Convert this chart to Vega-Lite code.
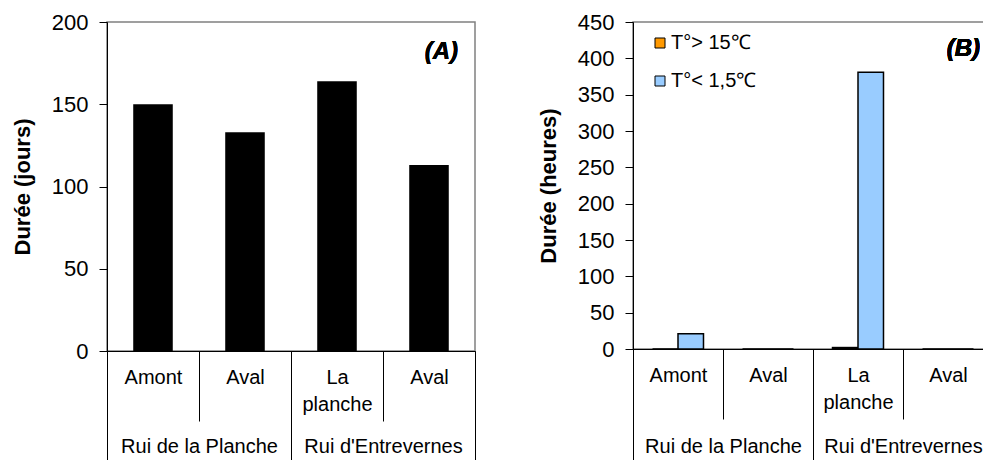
{
  "$schema": "https://vega.github.io/schema/vega-lite/v6.json",
  "padding": {"left": 10, "top": 10, "right": 0, "bottom": 0},
  "background": "white",
  "config": {
    "font": "Liberation Sans",
    "view": {"stroke": "#808080", "strokeWidth": 1.5},
    "axis": {"labelFont": "Liberation Sans", "titleFont": "Liberation Sans", "labelColor": "black", "titleColor": "black", "domainColor": "black", "tickColor": "black", "grid": false, "labelOverlap": false},
    "concat": {"spacing": 59}
  },
  "datasets": {
    "jours": [
      {"site": "RP-Amont", "riviere": "Rui de la Planche", "duree": 150},
      {"site": "RP-Aval", "riviere": "Rui de la Planche", "duree": 133},
      {"site": "RE-La planche", "riviere": "Rui d'Entrevernes", "duree": 164},
      {"site": "RE-Aval", "riviere": "Rui d'Entrevernes", "duree": 113}
    ],
    "heures": [
      {"site": "RP-Amont", "riviere": "Rui de la Planche", "serie": "T°> 15℃", "heures": 0},
      {"site": "RP-Amont", "riviere": "Rui de la Planche", "serie": "T°< 1,5℃", "heures": 21},
      {"site": "RP-Aval", "riviere": "Rui de la Planche", "serie": "T°> 15℃", "heures": 0},
      {"site": "RP-Aval", "riviere": "Rui de la Planche", "serie": "T°< 1,5℃", "heures": 0},
      {"site": "RE-La planche", "riviere": "Rui d'Entrevernes", "serie": "T°> 15℃", "heures": 2},
      {"site": "RE-La planche", "riviere": "Rui d'Entrevernes", "serie": "T°< 1,5℃", "heures": 381},
      {"site": "RE-Aval", "riviere": "Rui d'Entrevernes", "serie": "T°> 15℃", "heures": 0},
      {"site": "RE-Aval", "riviere": "Rui d'Entrevernes", "serie": "T°< 1,5℃", "heures": 0}
    ]
  },
  "hconcat": [
    {
      "width": 368,
      "height": 329,
      "data": {"name": "jours"},
      "layer": [
        {
          "mark": {"type": "bar", "color": "black", "width": {"band": 0.43}},
          "encoding": {
            "x": {"field": "site", "type": "nominal", "sort": null,
              "scale": {"domain": ["RP-Amont", "RP-Aval", "RE-La planche", "RE-Aval"], "paddingInner": 0, "paddingOuter": 0},
              "axis": {"title": null, "orient": "bottom", "tickBand": "extent", "tickSize": 70, "labelPadding": -54, "labelAngle": 0, "labelBaseline": "top", "labelFontSize": 20, "labelLineHeight": 27, "labelExpr": "isString(datum.value) ? (datum.value == 'RE-La planche' ? ['La', 'planche'] : substring(datum.value, 3)) : ''"}},
            "y": {"field": "duree", "type": "quantitative", "stack": null, "scale": {"domain": [0, 200], "nice": false},
              "axis": {"title": "Durée (jours)", "values": [0, 50, 100, 150, 200], "labelOverlap": false, "tickSize": 8, "labelPadding": 11, "labelFontSize": 22, "titleFontSize": 22, "titleFontWeight": "bold", "titlePadding": 17}}
          }
        },
        {
          "mark": {"type": "text", "text": "(A)", "align": "right", "baseline": "middle", "dx": 29, "fontSize": 24, "fontWeight": "bold", "fontStyle": "italic", "font": "Liberation Sans", "color": "black"},
          "encoding": {
            "x": {"datum": "RE-Aval", "type": "nominal",
              "scale": {"domain": ["RP-Amont", "RP-Aval", "RE-La planche", "RE-Aval"], "paddingInner": 0, "paddingOuter": 0}, "axis": null},
            "y": {"datum": 182, "type": "quantitative",
              "axis": {"title": "Durée (jours)", "values": [0, 50, 100, 150, 200], "labelOverlap": false, "tickSize": 8, "labelPadding": 11, "labelFontSize": 22, "titleFontSize": 22, "titleFontWeight": "bold", "titlePadding": 17}}
          }
        },
        {
          "mark": {"type": "bar", "opacity": 0},
          "encoding": {
            "x": {"field": "riviere", "type": "nominal", "sort": null,
              "scale": {"domain": ["Rui de la Planche", "Rui d'Entrevernes"], "paddingInner": 0, "paddingOuter": 0},
              "axis": {"title": null, "orient": "bottom", "domain": false, "tickBand": "extent", "tickSize": 110, "labelPadding": -25, "labelAngle": 0, "labelBaseline": "top", "labelFontSize": 20, "labelExpr": "isString(datum.value) ? datum.value : ''"}},
            "y": {"field": "duree", "type": "quantitative", "stack": null,
              "axis": {"title": "Durée (jours)", "values": [0, 50, 100, 150, 200], "labelOverlap": false, "tickSize": 8, "labelPadding": 11, "labelFontSize": 22, "titleFontSize": 22, "titleFontWeight": "bold", "titlePadding": 17}}
          }
        }
      ],
      "resolve": {"scale": {"x": "independent"}}
    },
    {
      "width": 360,
      "height": 327,
      "data": {"name": "heures"},
      "layer": [
        {
          "mark": {"type": "bar", "stroke": "black", "strokeWidth": 1.5},
          "encoding": {
            "x": {"field": "site", "type": "nominal", "sort": null,
              "scale": {"domain": ["RP-Amont", "RP-Aval", "RE-La planche", "RE-Aval"], "paddingInner": 0, "paddingOuter": 0},
              "axis": {"title": null, "orient": "bottom", "tickBand": "extent", "tickSize": 70, "labelPadding": -54, "labelAngle": 0, "labelBaseline": "top", "labelFontSize": 20, "labelLineHeight": 27, "labelExpr": "isString(datum.value) ? (datum.value == 'RE-La planche' ? ['La', 'planche'] : substring(datum.value, 3)) : ''"}},
            "xOffset": {"field": "serie", "type": "nominal", "sort": null,
              "scale": {"domain": ["T°> 15℃", "T°< 1,5℃"], "paddingInner": 0, "paddingOuter": 0.765}},
            "y": {"field": "heures", "type": "quantitative", "stack": null, "scale": {"domain": [0, 450], "nice": false},
              "axis": {"title": "Durée (heures)", "values": [0, 50, 100, 150, 200, 250, 300, 350, 400, 450], "labelOverlap": false, "tickSize": 8, "labelPadding": 11, "labelFontSize": 22, "titleFontSize": 22, "titleFontWeight": "bold", "titlePadding": 17}},
            "color": {"field": "serie", "type": "nominal", "sort": null,
              "scale": {"domain": ["T°> 15℃", "T°< 1,5℃"], "range": ["#FF9900", "#99CCFF"]},
              "legend": {"title": null, "orient": "none", "legendX": 17, "legendY": 11, "symbolType": "square", "symbolSize": 100, "symbolStrokeColor": "black", "symbolStrokeWidth": 1, "symbolOpacity": 1, "labelFontSize": 20, "labelFont": "Liberation Sans", "labelColor": "black", "rowPadding": 18, "labelOffset": 1, "padding": 0}}
          }
        },
        {
          "mark": {"type": "text", "text": "(B)", "align": "right", "baseline": "middle", "dx": 32, "fontSize": 24, "fontWeight": "bold", "fontStyle": "italic", "font": "Liberation Sans", "color": "black"},
          "encoding": {
            "x": {"datum": "RE-Aval", "type": "nominal",
              "scale": {"domain": ["RP-Amont", "RP-Aval", "RE-La planche", "RE-Aval"], "paddingInner": 0, "paddingOuter": 0}, "axis": null},
            "y": {"datum": 413, "type": "quantitative",
              "axis": {"title": "Durée (heures)", "values": [0, 50, 100, 150, 200, 250, 300, 350, 400, 450], "labelOverlap": false, "tickSize": 8, "labelPadding": 11, "labelFontSize": 22, "titleFontSize": 22, "titleFontWeight": "bold", "titlePadding": 17}}
          }
        },
        {
          "mark": {"type": "bar", "opacity": 0},
          "encoding": {
            "x": {"field": "riviere", "type": "nominal", "sort": null,
              "scale": {"domain": ["Rui de la Planche", "Rui d'Entrevernes"], "paddingInner": 0, "paddingOuter": 0},
              "axis": {"title": null, "orient": "bottom", "domain": false, "tickBand": "extent", "tickSize": 112, "labelPadding": -25, "labelAngle": 0, "labelBaseline": "top", "labelFontSize": 20, "labelExpr": "isString(datum.value) ? datum.value : ''"}},
            "y": {"field": "heures", "type": "quantitative", "stack": null,
              "axis": {"title": "Durée (heures)", "values": [0, 50, 100, 150, 200, 250, 300, 350, 400, 450], "labelOverlap": false, "tickSize": 8, "labelPadding": 11, "labelFontSize": 22, "titleFontSize": 22, "titleFontWeight": "bold", "titlePadding": 17}}
          }
        }
      ],
      "resolve": {"scale": {"x": "independent"}}
    }
  ],
  "resolve": {"legend": {"color": "independent"}}
}
